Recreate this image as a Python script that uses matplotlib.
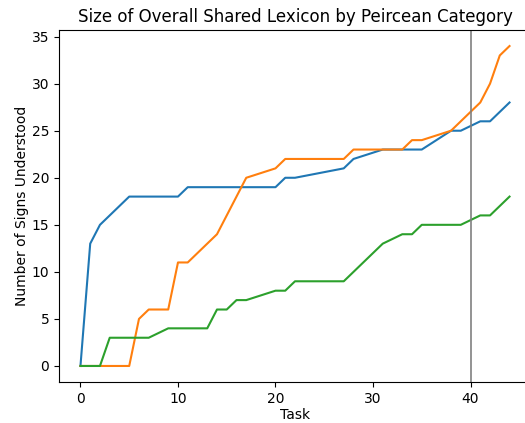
import matplotlib
matplotlib.use('Agg')
import matplotlib.pyplot as plt

# Breakpoints (task index, signs understood)
icon_x = [0, 1, 2, 5, 10, 11, 20, 21, 22, 27, 28, 31, 35, 38, 39, 41, 42, 44]
icon_y = [0, 13, 15, 18, 18, 19, 19, 20, 20, 21, 22, 23, 23, 25, 25, 26, 26, 28]

index_x = [0, 5, 6, 7, 9, 10, 11, 14, 17, 20, 21, 27, 28, 33, 34, 35, 38, 41, 42, 43, 44]
index_y = [0, 0, 5, 6, 6, 11, 11, 14, 20, 21, 22, 22, 23, 23, 24, 24, 25, 28, 30, 33, 34]

symbol_x = [0, 2, 3, 7, 9, 13, 14, 15, 16, 17, 20, 21, 22, 27, 31, 33, 34, 35, 39, 41, 42, 44]
symbol_y = [0, 0, 3, 3, 4, 4, 6, 6, 7, 7, 8, 8, 9, 9, 13, 14, 14, 15, 15, 16, 16, 18]

marker_task = 40

fig = plt.figure(figsize=(5.25, 4.23), dpi=100)
# axes extend past the right edge, as in the (cropped) reference
ax = fig.add_axes([0.1124, 0.097, 0.899, 0.832])

ax.plot(icon_x, icon_y, color='#1f77b4')
ax.plot(index_x, index_y, color='#ff7f0e')
ax.plot(symbol_x, symbol_y, color='#2ca02c')
ax.axvline(marker_task, color='grey', linewidth=1.2)

ax.set_xlim(-2.2, 46.2)
ax.set_ylim(-1.7, 35.7)
ax.set_xticks([0, 10, 20, 30, 40])
ax.set_yticks([0, 5, 10, 15, 20, 25, 30, 35])
ax.set_xlabel('Task', labelpad=2)
ax.set_ylabel('Number of Signs Understood', labelpad=2)
ax.set_title('Size of Overall Shared Lexicon by Peircean Category')

fig.savefig('out.png', dpi=100)
